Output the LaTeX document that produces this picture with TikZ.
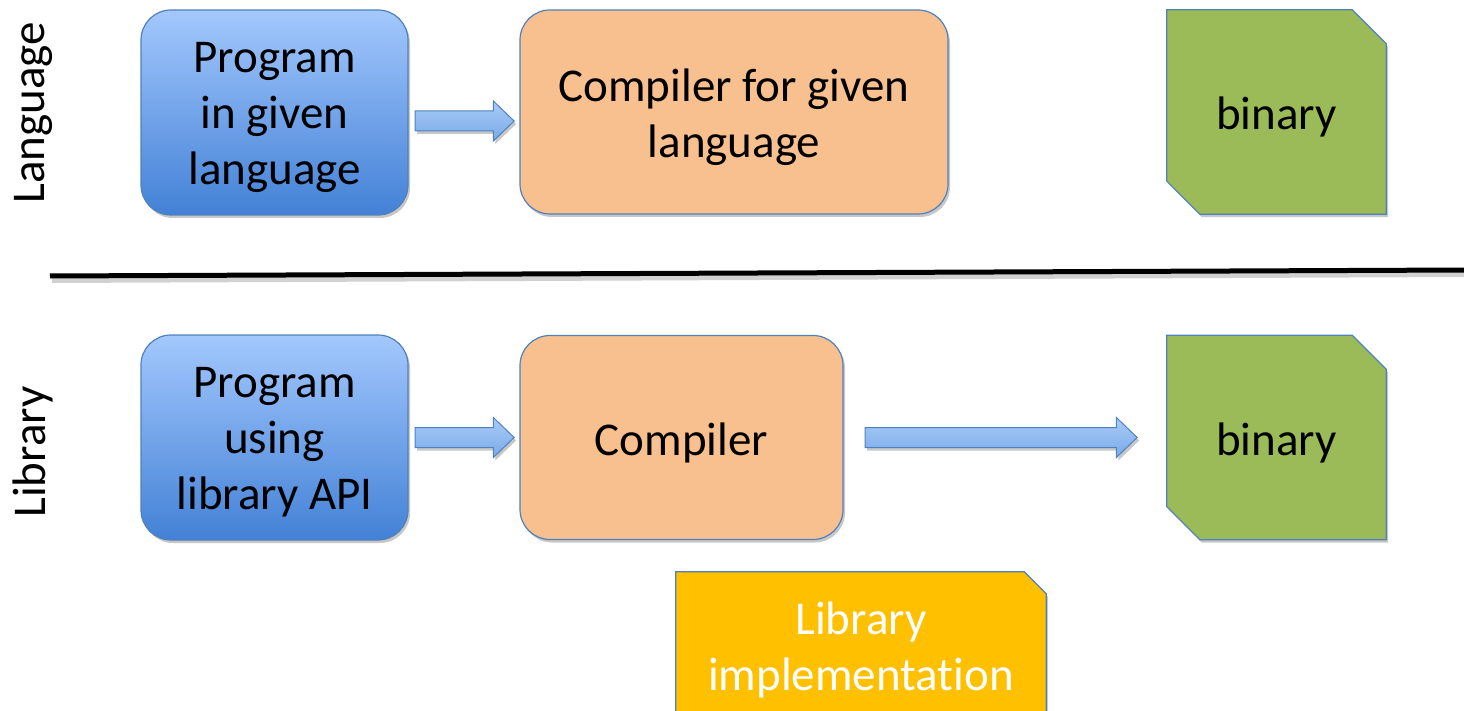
\documentclass[tikz,border=0pt]{standalone}
\usepackage{fontspec}
\setmainfont{Carlito}[Ligatures=NoCommon]
\usetikzlibrary{shapes.arrows,shadows,calc}
\definecolor{bordblue}{HTML}{4F81BD}
\definecolor{progtop}{HTML}{A3C8FD}
\definecolor{progbot}{HTML}{4381D6}
\definecolor{arrtop}{HTML}{A8CBF8}
\definecolor{arrbot}{HTML}{7AAAE8}
\definecolor{compfill}{HTML}{F9C08F}
\definecolor{binfill}{HTML}{9BBB59}
\definecolor{libfill}{HTML}{FFC000}
\pgfdeclarelayer{background}
\pgfsetlayers{background,main}
\begin{document}
\begin{tikzpicture}[x=1pt,y=-1pt,
  lab/.style={font=\fontsize{47}{56}\selectfont, align=center, inner sep=0pt},
  txt/.style={label={[lab, yshift=-5pt]center:{#1}}},
  shadowed/.style={drop shadow={shadow xshift=2pt, shadow yshift=-3pt, opacity=0.22, fill=black}},
  progbox/.style={draw=bordblue, line width=1.2pt, rounded corners=30pt,
    top color=progtop, bottom color=progbot, minimum width=267pt, minimum height=205pt, shadowed},
  compbox/.style={draw=bordblue, line width=1.2pt, rounded corners=30pt,
    fill=compfill, minimum height=204pt, shadowed},
  binbox/.style={minimum width=219pt, minimum height=204pt},
  libbox/.style={minimum width=370pt, minimum height=156pt},
  chamf/.style={draw=bordblue, line width=1.2pt, shadowed},
  blockarrow/.style={single arrow, draw=bordblue, line width=1pt, top color=arrtop, bottom color=arrbot,
    inner xsep=0pt, inner ysep=9.5pt, single arrow head extend=10pt, single arrow tip angle=88,
    anchor=tail, shadowed},
  side/.style={lab, rotate=90}
]
\useasboundingbox (0,0) rectangle (1464,711);

% side labels
\node[side] (lang) at (33,113) {Language};
\node[side] (libr) at (33,452) {Library};

% separator
\coordinate (sepl) at (50,276);
\coordinate (sepr) at (1466,270);
\draw[line width=6pt, black, opacity=0.18] ($(sepl)+(2,4)$) -- ($(sepr)+(2,4)$);
\draw[line width=5pt, black] (sepl) -- (sepr);

% top row
\node[progbox, txt={Program\\in given\\language}] (p1) at (274.5,112.5) {};
\node[compbox, minimum width=428pt, txt={Compiler for given\\language}] (c1) at (734,112) {};
\node[binbox] (b1) at (1276.5,112) {};

% bottom row
\node[progbox, txt={Program\\using\\library API}] (p2) at (274.5,437.5) {};
\node[compbox, minimum width=323pt, txt={Compiler}] (c2) at (681.5,437.5) {};
\node[binbox] (b2) at (1276.5,437.5) {};

\node[libbox] (lib) at (861,650) {};

\foreach \b in {b1,b2}{
  \path[chamf, fill=binfill] (\b.north west) -- ($(\b.north east)+(-34,0)$) -- ($(\b.north east)+(0,34)$)
    -- (\b.south east) -- ($(\b.south west)+(33,0)$) -- ($(\b.south west)+(0,-33)$) -- cycle;
  \node[lab, yshift=-5pt] at (\b.center) {binary};
}
\path[chamf, fill=libfill] (lib.south west) -- (lib.north west) -- ($(lib.north east)+(-22,0)$)
  -- ($(lib.north east)+(0,22)$) -- (lib.south east) -- cycle;
\node[lab, text=white] at (lib.center) {Library\\implementation};

% arrows
\node[blockarrow, minimum height=99pt] (a1) at ($(p1.east)+(6,8.5)$) {};
\node[blockarrow, minimum height=99pt] (a2) at ($(p2.east)+(6,0)$) {};
\node[blockarrow, minimum height=272pt] (a3) at ($(c2.east)+(21,0)$) {};
\end{tikzpicture}
\end{document}
